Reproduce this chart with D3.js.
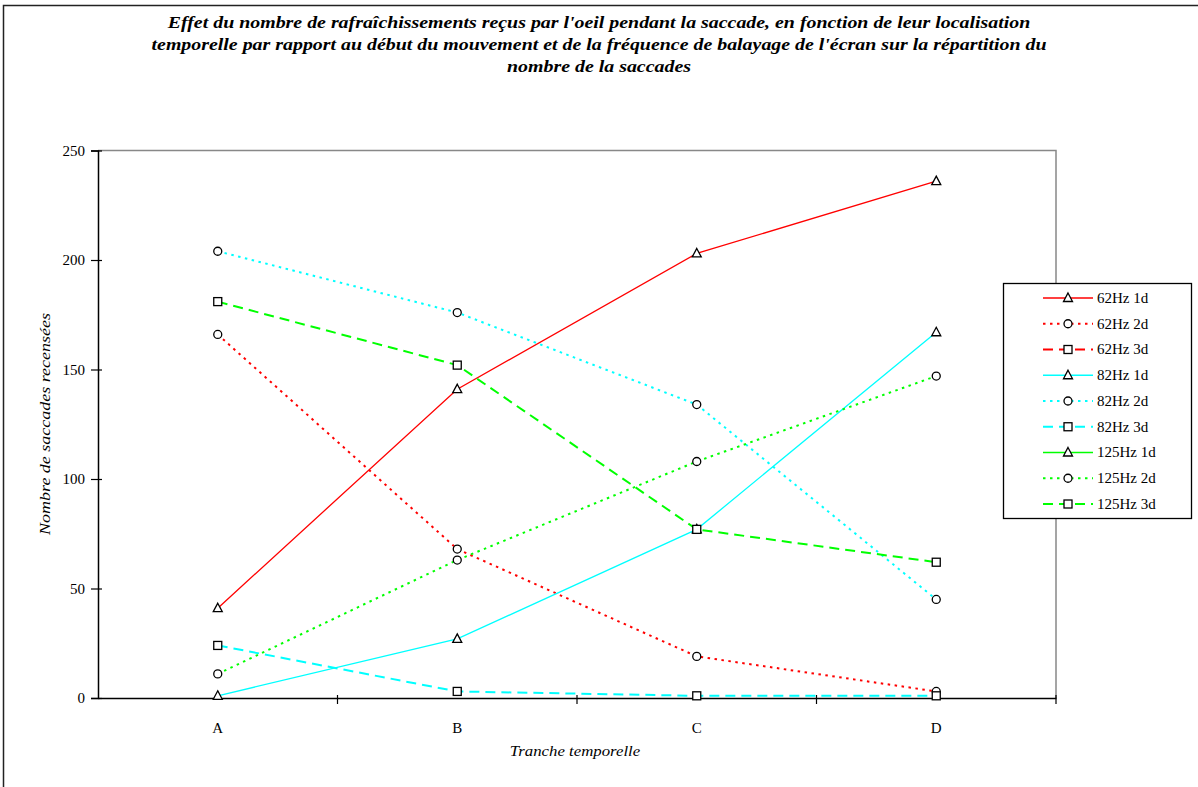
<!DOCTYPE html>
<html>
<head>
<meta charset="utf-8">
<script src="https://cdn.jsdelivr.net/npm/d3@7"></script>
<style>
  body { margin: 0; background: #fff; }
  svg { display: block; font-family: "Liberation Serif", "Times New Roman", serif; }
</style>
</head>
<body>
<script>
const width = 1198
const height = 787

// data
const categories = ["A", "B", "C", "D"]
const seriesNames = ["62Hz 1d", "62Hz 2d", "62Hz 3d", "82Hz 1d", "82Hz 2d", "82Hz 3d", "125Hz 1d", "125Hz 2d", "125Hz 3d"]
const hz62_1d = [41, 141, 203, 236]
const hz62_2d = [166, 68, 19, 3]
const hz62_3d = [null, null, null, null]
const hz82_1d = [1, 27, 77, 167]
const hz82_2d = [204, 176, 134, 45]
const hz82_3d = [24, 3, 1, 1]
const hz125_1d = [null, null, null, null]
const hz125_2d = [11, 63, 108, 147]
const hz125_3d = [181, 152, 77, 62]
const yTicks = [0, 50, 100, 150, 200, 250]
const titleLines = [
  "Effet du nombre de rafraîchissements reçus par l'oeil pendant la saccade, en fonction de leur localisation",
  "temporelle par rapport au début du mouvement et de la fréquence de balayage de l'écran sur la répartition du",
  "nombre de la saccades"
]

const seriesValues = [hz62_1d, hz62_2d, hz62_3d, hz82_1d, hz82_2d, hz82_3d, hz125_1d, hz125_2d, hz125_3d]
const colors = ["#ff0000", "#00ffff", "#00ff00"]
const styles = [
  { dash: null, width: 1.3, marker: "triangle" },
  { dash: "2.5,4.5", width: 2, marker: "circle" },
  { dash: "10,6", width: 2, marker: "square" }
]
const series = seriesNames.map((name, i) => ({
  name,
  values: seriesValues[i],
  color: colors[Math.floor(i / 3)],
  style: styles[i % 3]
}))

const margin = { left: 98, right: 1056, top: 150.5, bottom: 698 }

const svg = d3.select("body").append("svg")
  .attr("width", width)
  .attr("height", height)

// outer chart border
svg.append("rect")
  .attr("x", 3.5).attr("y", 5.5)
  .attr("width", 1210).attr("height", 800)
  .attr("fill", "none")
  .attr("stroke", "#222")
  .attr("stroke-width", 1.5)

// the original font is set wide, so stretch the text horizontally
svg.append("g")
  .attr("transform", "translate(599,0) scale(1.17,1)")
  .selectAll("text")
  .data(titleLines)
  .join("text")
  .attr("x", 0)
  .attr("y", (d, i) => 28 + i * 22)
  .attr("text-anchor", "middle")
  .attr("font-size", 17)
  .attr("font-weight", "bold")
  .attr("font-style", "italic")
  .text(d => d)

const x = d3.scaleBand()
  .domain(categories)
  .range([margin.left, margin.right])
  .padding(0)

const y = d3.scaleLinear()
  .domain([0, 250])
  .range([margin.bottom, margin.top])

// plot area frame (grey top and right)
svg.append("path")
  .attr("d", `M${margin.left},${margin.top}H${margin.right}V${margin.bottom}`)
  .attr("fill", "none")
  .attr("stroke", "#888")
  .attr("stroke-width", 1.5)

// y axis
const yAxis = svg.append("g")
  .attr("transform", `translate(${margin.left},0)`)
  .call(d3.axisLeft(y).tickValues(yTicks).tickSize(7).tickPadding(6))
yAxis.select(".domain").attr("stroke", "#000").attr("stroke-width", 1.5)
yAxis.selectAll(".tick line").attr("x2", 4).attr("x1", -7).attr("stroke-width", 1.2)
yAxis.selectAll(".tick text")
  .attr("font-family", "Liberation Serif, serif")
  .attr("font-size", 15)
  .attr("fill", "#000")

// x axis
const xAxis = svg.append("g")
  .attr("transform", `translate(0,${margin.bottom})`)
  .call(d3.axisBottom(x).tickSize(0).tickPadding(24))
xAxis.select(".domain").attr("stroke", "#000").attr("stroke-width", 1.5)
xAxis.selectAll(".tick text")
  .attr("font-family", "Liberation Serif, serif")
  .attr("font-size", 15)
  .attr("fill", "#000")
xAxis.selectAll("line.sep")
  .data(categories.slice(1).map(c => x(c)).concat([margin.right]))
  .join("line")
  .attr("class", "sep")
  .attr("x1", d => d).attr("x2", d => d)
  .attr("y1", -3).attr("y2", 6)
  .attr("stroke", "#000")
  .attr("stroke-width", 1.2)

// axis titles
svg.append("text")
  .attr("transform", "translate(575,756) scale(1.12,1)")
  .attr("text-anchor", "middle")
  .attr("font-size", 15)
  .attr("font-style", "italic")
  .text("Tranche temporelle")

svg.append("text")
  .attr("transform", "translate(50,424) rotate(-90) scale(1.2,1)")
  .attr("text-anchor", "middle")
  .attr("font-size", 15)
  .attr("font-style", "italic")
  .text("Nombre de saccades recensées")

const cx = (d, i) => x(categories[i]) + x.bandwidth() / 2

const line = d3.line()
  .defined(d => d !== null)
  .x(cx)
  .y(d => y(d))

function drawMarker(g, type, px, py) {
  if (type === "triangle") {
    g.append("path")
      .attr("d", `M${px},${py - 5}L${px + 4.5},${py + 3.5}L${px - 4.5},${py + 3.5}Z`)
  } else if (type === "circle") {
    g.append("circle").attr("cx", px).attr("cy", py).attr("r", 4)
  } else {
    g.append("rect").attr("x", px - 4).attr("y", py - 4).attr("width", 8).attr("height", 8)
  }
}

const plot = svg.append("g")
series.forEach(s => {
  plot.append("path")
    .attr("d", line(s.values))
    .attr("fill", "none")
    .attr("stroke", s.color)
    .attr("stroke-width", s.style.width)
    .attr("stroke-dasharray", s.style.dash)
})
series.forEach(s => {
  const g = plot.append("g")
    .attr("fill", "#fff")
    .attr("stroke", "#000")
    .attr("stroke-width", 1.3)
  s.values.forEach((v, i) => {
    if (v === null) return
    drawMarker(g, s.style.marker, cx(v, i), y(v))
  })
})

// legend
const legend = svg.append("g")
legend.append("rect")
  .attr("x", 1003.5).attr("y", 283.5)
  .attr("width", 188).attr("height", 235)
  .attr("fill", "#fff")
  .attr("stroke", "#000")
  .attr("stroke-width", 1.3)

const legendY = d3.scalePoint()
  .domain(seriesNames)
  .range([298, 504])

series.forEach(s => {
  const ly = legendY(s.name)
  legend.append("line")
    .attr("x1", 1043).attr("x2", 1093)
    .attr("y1", ly).attr("y2", ly)
    .attr("stroke", s.color)
    .attr("stroke-width", s.style.width)
    .attr("stroke-dasharray", s.style.dash)
  const g = legend.append("g")
    .attr("fill", "#fff")
    .attr("stroke", "#000")
    .attr("stroke-width", 1.3)
  drawMarker(g, s.style.marker, 1068, ly)
  legend.append("text")
    .attr("x", 1097)
    .attr("y", ly)
    .attr("dy", "0.33em")
    .attr("font-size", 15)
    .text(s.name)
})
</script>
</body>
</html>
